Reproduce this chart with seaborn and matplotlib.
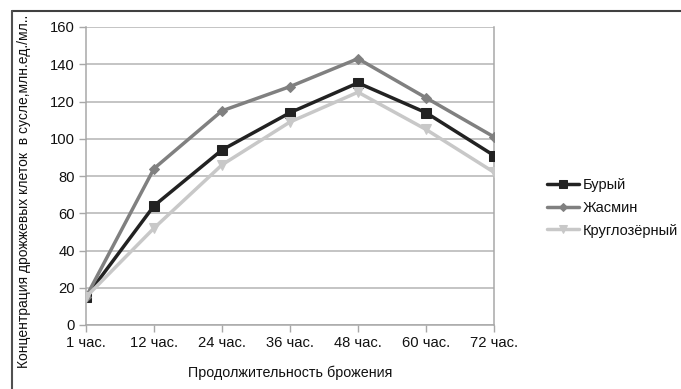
import matplotlib
matplotlib.use("Agg")
import matplotlib.pyplot as plt
from matplotlib.lines import Line2D
import seaborn as sns
import pandas as pd

# Fermentation time points and yeast cell concentration per rice variety
hours = ["1 час.", "12 час.", "24 час.", "36 час.", "48 час.", "60 час.", "72 час."]
buryi = [15, 64, 94, 114, 130, 114, 91]
jasmin = [15, 84, 115, 128, 143, 122, 101]
kruglozerny = [15, 52, 86, 109, 125, 105, 82]

series_names = ["Бурый", "Жасмин", "Круглозёрный"]
series_values = [buryi, jasmin, kruglozerny]

rows = []
for name, vals in zip(series_names, series_values):
    for i, (h, v) in enumerate(zip(hours, vals)):
        rows.append({"pos": i, "time": h, "variety": name, "value": v})
df = pd.DataFrame(rows)

sns.set_theme(style="white")
plt.rcParams["font.family"] = ["Liberation Sans", "DejaVu Sans"]

fig = plt.figure(figsize=(6.81, 3.89), dpi=100)
ax = fig.add_axes([86 / 681, 1 - 325 / 389, (494 - 86) / 681, (325 - 27) / 389])

palette = {"Бурый": "#222222", "Жасмин": "#808080", "Круглозёрный": "#c8c8c8"}
markers = {"Бурый": "s", "Жасмин": "D", "Круглозёрный": "v"}
sizes = {"Бурый": 7.5, "Жасмин": 5.5, "Круглозёрный": 7.5}

for name in series_names:
    sub = df[df["variety"] == name]
    sns.lineplot(data=sub, x="pos", y="value", ax=ax, color=palette[name],
                 marker=markers[name], markersize=sizes[name],
                 markeredgecolor=palette[name], linewidth=2.5, label=name,
                 zorder=3)

ax.set_xlim(0, len(hours) - 1)
ax.set_ylim(0, 160)
ax.set_yticks(range(0, 161, 20))
ax.set_xticks(range(len(hours)))
ax.set_xticklabels(hours)
ax.yaxis.grid(True, color="#b4b4b4", linewidth=1.1)
ax.xaxis.grid(False)
for s in ["left", "bottom", "right"]:
    ax.spines[s].set_visible(True)
    ax.spines[s].set_color("#a8a8a8")
    ax.spines[s].set_linewidth(1.1)
ax.spines["top"].set_visible(False)
ax.tick_params(axis="both", which="both", direction="out", length=5, width=1,
               color="#a8a8a8", labelsize=10.6, labelcolor="#111111", pad=3,
               left=True, bottom=True)
ax.set_xlabel("Продолжительность брожения", fontsize=10.3, color="#111111", labelpad=11)
ax.set_ylabel("Концентрация дрожжевых клеток  в сусле,млн.ед./мл..", fontsize=10,
              color="#111111")
ax.yaxis.set_label_coords(-0.135, 0.45)

leg = ax.legend(loc="upper left", bbox_to_anchor=(547 / 681, 1 - 178 / 389),
                bbox_transform=fig.transFigure, frameon=False, fontsize=10.5,
                handlelength=2.2, handletextpad=0.26, labelspacing=0.6,
                borderaxespad=0, borderpad=0, markerscale=0.75)
for t in leg.get_texts():
    t.set_color("#111111")

# outer chart frame
fig.add_artist(Line2D([12 / 681, 1], [1 - 11 / 389, 1 - 11 / 389],
                      transform=fig.transFigure, color="#404040", linewidth=1.5))
fig.add_artist(Line2D([12 / 681, 12 / 681], [0, 1 - 11 / 389],
                      transform=fig.transFigure, color="#505050", linewidth=1.5))

fig.savefig("out.png", dpi=100)
